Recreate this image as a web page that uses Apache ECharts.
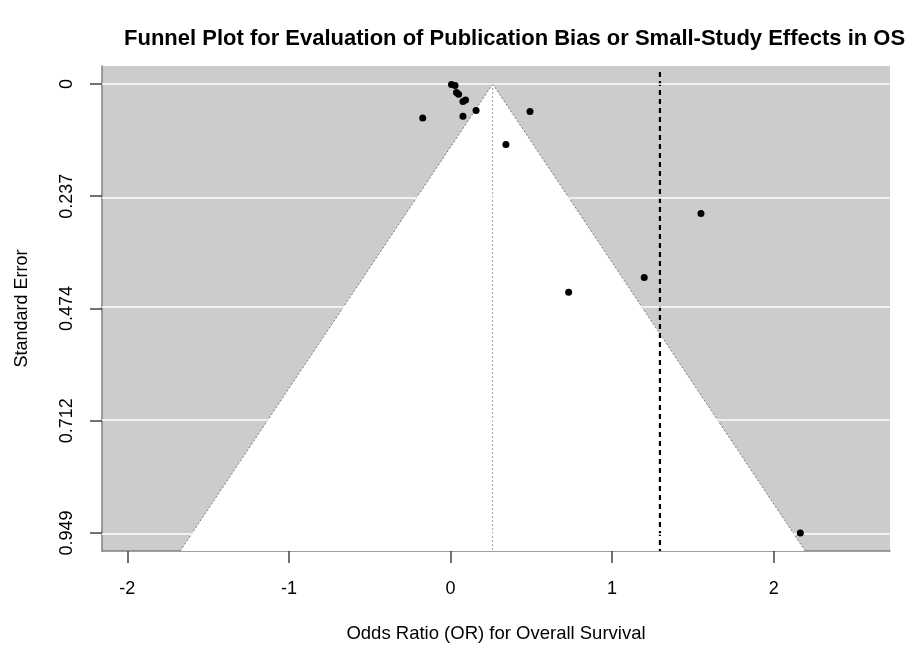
<!DOCTYPE html>
<html>
<head>
<meta charset="utf-8">
<script src="https://cdn.jsdelivr.net/npm/echarts@6/dist/echarts.min.js"></script>
<style>html,body{margin:0;padding:0;background:#fff}#chart{width:914px;height:648px}</style>
</head>
<body>
<div id="chart"></div>
<script>
// Study effect estimates (x) and their standard errors (y)
const effectValues = [0.006, 0.028, 0.037, 0.050, 0.077, 0.093, -0.172, 0.077, 0.158, 0.492, 0.343, 1.550, 1.199, 0.731, 2.165];
const seValues     = [0.001, 0.003, 0.018, 0.022, 0.037, 0.034, 0.072, 0.068, 0.056, 0.058, 0.128, 0.274, 0.409, 0.440, 0.949];
const pooledEstimate = 0.261;
const referenceLine = 1.296;
const xTicks = [-2, -1, 0, 1, 2];
const yTicks = [0, 0.23725, 0.4745, 0.71175, 0.949];
const yTickLabels = ['0', '0.237', '0.474', '0.712', '0.949'];
const xRange = [-2.157, 2.720];
const yRange = [-0.03796, 0.98696];

const points = effectValues.map((x, i) => [x, seValues[i]]);

const chart = echarts.init(document.getElementById('chart'), null, {renderer: 'canvas'});
const font = 'Liberation Sans, Arial, sans-serif';

chart.setOption({
  animation: false,
  backgroundColor: '#ffffff',
  title: {
    text: 'Funnel Plot for Evaluation of Publication Bias or Small-Study Effects in OS',
    left: 119, top: 23,
    textStyle: {fontFamily: font, fontWeight: 'bold', fontSize: 22, color: '#000'}
  },
  grid: {left: 102, right: 24, top: 66, bottom: 95.5, show: true, backgroundColor: '#cccccc', borderWidth: 0},
  xAxis: {
    type: 'value', min: xRange[0], max: xRange[1],
    name: 'Odds Ratio (OR) for Overall Survival', nameLocation: 'middle', nameGap: 73,
    nameTextStyle: {fontFamily: font, fontSize: 18.5, color: '#000'},
    axisLine: {show: true, onZero: false, lineStyle: {color: '#808080', width: 1.5}},
    axisTick: {show: true, inside: false, length: 12, customValues: xTicks, lineStyle: {color: '#444', width: 1.5}},
    axisLabel: {customValues: xTicks, margin: 29, fontFamily: font, fontSize: 18, color: '#000'},
    splitLine: {show: false}
  },
  yAxis: {
    type: 'value', inverse: true, min: yRange[0], max: yRange[1],
    name: 'Standard Error', nameLocation: 'middle', nameGap: 71, nameRotate: 90,
    nameTextStyle: {fontFamily: font, fontSize: 18, color: '#000'},
    axisLine: {show: true, onZero: false, lineStyle: {color: '#808080', width: 1.5}},
    axisTick: {show: true, inside: false, length: 12, customValues: yTicks, lineStyle: {color: '#444', width: 1.5}},
    axisLabel: {
      customValues: yTicks, rotate: 90, margin: 26, fontFamily: font, fontSize: 18, color: '#000',
      formatter: function (v) {
        const i = yTicks.findIndex(t => Math.abs(t - v) < 1e-6);
        return i >= 0 ? yTickLabels[i] : '';
      }
    },
    splitLine: {show: false}
  },
  series: [
    {
      type: 'line', data: [], silent: true, z: 1,
      markLine: {
        silent: true, symbol: 'none', label: {show: false}, animation: false,
        lineStyle: {color: '#ffffff', width: 1.5, type: 'solid'},
        data: yTicks.map(t => ({yAxis: t}))
      }
    },
    {
      type: 'custom', z: 2, silent: true, clip: true,
      data: [[pooledEstimate, yRange[1]]],
      renderItem: function (params, api) {
        const c = pooledEstimate;
        const se = yRange[1];
        const apex = api.coord([c, 0]);
        const bl = api.coord([c - 1.96 * se, se]);
        const br = api.coord([c + 1.96 * se, se]);
        const bc = api.coord([c, se]);
        const rect = params.coordSys;
        return {
          type: 'group',
          clipPath: {type: 'rect', shape: {x: rect.x, y: rect.y, width: rect.width, height: rect.height}},
          children: [
            {type: 'polygon', shape: {points: [apex, bl, br]}, style: {fill: '#ffffff', stroke: null}},
            {type: 'line', shape: {x1: apex[0], y1: apex[1], x2: bl[0], y2: bl[1]}, style: {stroke: '#777', lineWidth: 1, lineDash: [2, 2]}},
            {type: 'line', shape: {x1: apex[0], y1: apex[1], x2: br[0], y2: br[1]}, style: {stroke: '#777', lineWidth: 1, lineDash: [2, 2]}},
            {type: 'line', shape: {x1: apex[0], y1: apex[1], x2: bc[0], y2: bc[1]}, style: {stroke: '#888', lineWidth: 0.8, lineDash: [2, 2]}}
          ]
        };
      }
    },
    {
      type: 'custom', z: 3, silent: true,
      data: [[referenceLine, 0]],
      renderItem: function (params, api) {
        const top = api.coord([referenceLine, yRange[0]]);
        const bot = api.coord([referenceLine, yRange[1]]);
        return {type: 'line', shape: {x1: top[0], y1: top[1] + 6, x2: bot[0], y2: bot[1]}, style: {stroke: '#000', lineWidth: 2.2, lineDash: [5, 4]}};
      }
    },
    {
      type: 'scatter', z: 5, data: points, symbol: 'circle', symbolSize: 7,
      itemStyle: {color: '#000', opacity: 1}
    }
  ]
});
</script>
</body>
</html>
